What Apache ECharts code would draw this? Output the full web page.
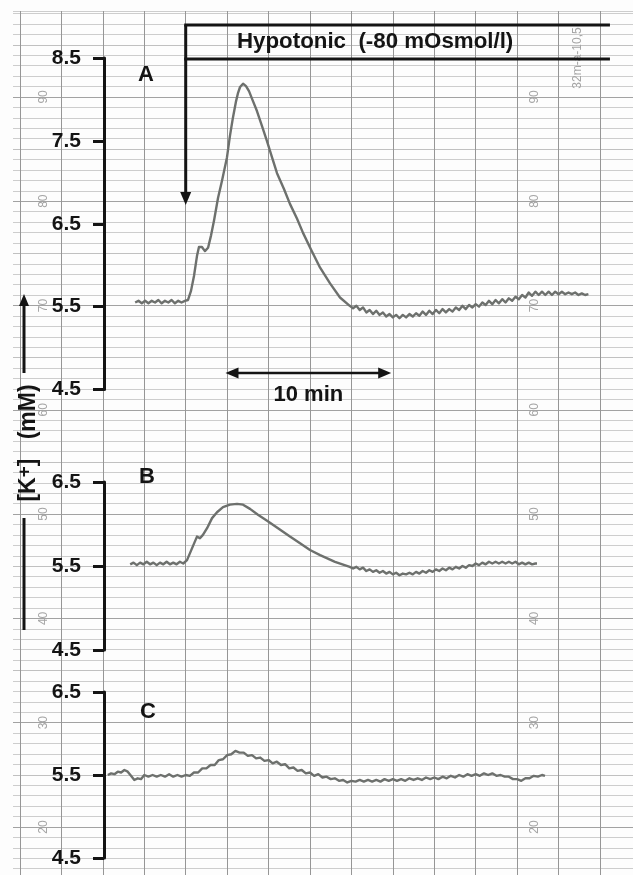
<!DOCTYPE html>
<html><head><meta charset="utf-8">
<script src="https://cdn.jsdelivr.net/npm/echarts@6/dist/echarts.min.js"></script>
<style>html,body{margin:0;padding:0;background:#fff}#c{width:633px;height:875px}</style>
</head><body><div id="c"></div>
<script>
// ---------------- DATA (time in min from hypotonic onset, [K+] in mM) ----------------
const traceA = [
[-3.05,5.55],[-2.85,5.57],[-2.65,5.54],[-2.45,5.57],[-2.25,5.54],[-2.05,5.57],[-1.85,5.55],[-1.65,5.58],[-1.45,5.54],[-1.25,5.57],[-1.05,5.55],[-0.85,5.58],[-0.65,5.54],[-0.45,5.57],[-0.25,5.55],[-0.05,5.57],
[0.14,5.58],[0.32,5.69],[0.50,5.87],[0.68,6.11],[0.80,6.22],[0.98,6.22],[1.16,6.17],[1.35,6.21],[1.53,6.36],[1.71,6.54],[1.95,6.81],[2.19,7.02],[2.49,7.30],[2.67,7.56],[2.85,7.78],[3.04,7.98],[3.16,8.08],[3.28,8.15],[3.46,8.19],[3.64,8.16],[3.82,8.10],[4.06,7.98],[4.30,7.86],[4.60,7.68],[4.90,7.50],[5.21,7.30],[5.51,7.11],[5.93,6.92],[6.29,6.74],[6.72,6.56],[7.08,6.39],[7.56,6.19],[8.11,5.97],[8.71,5.78],[9.31,5.61],
[9.9,5.51],[10.1,5.48],[10.3,5.51],[10.5,5.46],[10.7,5.49],[10.9,5.43],[11.1,5.46],[11.3,5.41],[11.5,5.45],[11.7,5.40],[11.9,5.43],[12.1,5.38],[12.3,5.41],[12.5,5.37],[12.7,5.40],[12.9,5.36],[13.1,5.40],[13.3,5.37],[13.5,5.41],[13.7,5.38],[13.9,5.42],[14.1,5.39],[14.3,5.44],[14.5,5.40],[14.7,5.45],[14.9,5.41],[15.1,5.46],[15.3,5.42],[15.5,5.47],[15.7,5.43],[15.9,5.47],[16.1,5.44],[16.3,5.49],[16.5,5.46],[16.7,5.51],[16.9,5.47],[17.1,5.52],[17.3,5.49],[17.5,5.53],[17.7,5.50],[17.9,5.55],[18.1,5.52],[18.3,5.57],[18.5,5.53],[18.7,5.58],[18.9,5.54],[19.1,5.59],[19.3,5.55],[19.5,5.60],[19.7,5.57],[19.9,5.62],[20.1,5.59],[20.3,5.64],[20.5,5.61],[20.7,5.67],[20.9,5.63],[21.1,5.68],[21.3,5.64],[21.5,5.68],[21.7,5.64],[21.9,5.68],[22.1,5.64],[22.3,5.68],[22.5,5.65],[22.7,5.68],[22.9,5.65],[23.1,5.67],[23.3,5.65],[23.5,5.67],[23.7,5.64],[23.9,5.66],[24.1,5.64],[24.3,5.65]
];
const traceB = [
[-3.35,5.52],[-3.15,5.54],[-2.95,5.51],[-2.75,5.54],[-2.55,5.52],[-2.35,5.55],[-2.15,5.52],[-1.95,5.54],[-1.75,5.51],[-1.55,5.54],[-1.35,5.52],[-1.15,5.55],[-0.95,5.52],[-0.75,5.54],[-0.55,5.52],[-0.35,5.55],[-0.15,5.53],
[0.08,5.57],[0.38,5.71],[0.68,5.85],[0.86,5.83],[1.04,5.87],[1.29,5.95],[1.59,6.07],[1.89,6.14],[2.25,6.20],[2.67,6.23],[3.10,6.24],[3.46,6.23],[3.88,6.18],[4.36,6.11],[4.91,6.04],[5.57,5.95],[6.29,5.85],[6.90,5.77],[7.50,5.69],[8.11,5.63],[9.01,5.55],
[9.9,5.49],[10.1,5.47],[10.3,5.49],[10.5,5.46],[10.7,5.48],[10.9,5.44],[11.1,5.46],[11.3,5.43],[11.5,5.45],[11.7,5.42],[11.9,5.44],[12.1,5.41],[12.3,5.43],[12.5,5.40],[12.7,5.42],[12.9,5.39],[13.1,5.41],[13.3,5.40],[13.5,5.42],[13.7,5.40],[13.9,5.43],[14.1,5.41],[14.3,5.44],[14.5,5.42],[14.7,5.45],[14.9,5.43],[15.1,5.46],[15.3,5.44],[15.5,5.47],[15.7,5.45],[15.9,5.48],[16.1,5.46],[16.3,5.49],[16.5,5.47],[16.7,5.50],[16.9,5.48],[17.1,5.51],[17.3,5.50],[17.5,5.53],[17.7,5.51],[17.9,5.54],[18.1,5.52],[18.3,5.55],[18.5,5.53],[18.7,5.55],[18.9,5.53],[19.1,5.55],[19.3,5.53],[19.5,5.55],[19.7,5.53],[19.9,5.55],[20.1,5.52],[20.3,5.54],[20.5,5.52],[20.7,5.54],[20.9,5.52],[21.1,5.53],[21.2,5.53]
];
const traceC = [
[-4.70,5.50],[-4.50,5.52],[-4.30,5.51],[-4.10,5.54],[-3.90,5.53],[-3.70,5.56],[-3.50,5.54],[-3.30,5.49],[-3.10,5.44],[-2.90,5.46],[-2.70,5.45],[-2.50,5.50],[-2.25,5.48],[-2.00,5.50],[-1.75,5.48],[-1.50,5.50],[-1.25,5.48],[-1.00,5.51],[-0.75,5.48],[-0.50,5.50],[-0.25,5.48],[0.00,5.50],
[0.25,5.49],[0.50,5.53],[0.75,5.53],[1.00,5.58],[1.25,5.58],[1.50,5.62],[1.75,5.62],[2.00,5.68],[2.25,5.69],[2.50,5.74],[2.75,5.75],[3.00,5.79],[3.25,5.77],[3.50,5.77],[3.75,5.73],[4.00,5.74],[4.25,5.70],[4.50,5.71],[4.75,5.67],[5.00,5.68],[5.25,5.64],[5.50,5.66],[5.75,5.62],[6.00,5.63],[6.25,5.58],[6.50,5.59],[6.75,5.55],[7.00,5.56],[7.25,5.52],[7.50,5.53],[7.75,5.49],[8.00,5.51],[8.25,5.47],[8.50,5.48],[8.75,5.45],[9.00,5.46],[9.25,5.43],[9.50,5.44],[9.75,5.41],
[10.00,5.43],[10.25,5.42],[10.50,5.44],[10.75,5.42],[11.00,5.44],[11.25,5.42],[11.50,5.44],[11.75,5.42],[12.00,5.45],[12.25,5.43],[12.50,5.45],[12.75,5.43],[13.00,5.45],[13.25,5.43],[13.50,5.46],[13.75,5.44],[14.00,5.46],[14.25,5.44],[14.50,5.47],[14.75,5.45],[15.00,5.47],[15.25,5.45],[15.50,5.48],[15.75,5.46],[16.00,5.49],[16.25,5.47],[16.50,5.50],[16.75,5.48],[17.00,5.51],[17.25,5.49],[17.50,5.51],[17.75,5.49],[18.00,5.52],[18.25,5.50],[18.50,5.52],[18.75,5.49],[19.00,5.50],[19.25,5.48],[19.50,5.48],[19.75,5.45],[20.00,5.45],[20.25,5.43],[20.50,5.46],[20.75,5.46],[21.00,5.49],[21.25,5.48],[21.50,5.50],[21.68,5.49]
];
const rangeA = [4.5, 8.5];
const rangeB = [4.5, 6.5];
const rangeC = [4.5, 6.5];
const panelNames = ['A', 'B', 'C'];
const paperScale = [20, 30, 40, 50, 60, 70, 80, 90];
const hypoLabel = 'Hypotonic  (-80 mOsmol/l)';
const hypoSpan = [0, 25.6];          // minutes
const scaleBarSpan = [2.4, 12.4];    // 10 min
const scaleBarLabel = '10 min';
const paperStamp = '32m-a-10,5';

// ---------------- LAYOUT ----------------
const W = 633, H = 875;
const PX_PER_MIN = 41.43 / 2.5;
const T0_X = 185.7;
const TRACE_LEFT = 104;
const xMinT = (TRACE_LEFT - T0_X) / PX_PER_MIN;
const xMaxT = (W - T0_X) / PX_PER_MIN;
const FONT = "'Liberation Sans', Arial, Helvetica, sans-serif";
const INK = '#141414';
const TRACE_COLOR = '#6d706d';
const UNIT = 10.43;   // paper px per chart-paper unit
const Y20 = 827;      // pixel row of paper line "20"
const PAPER_TOP = 11;
const paperMin = 16;
const paperBottomPx = Y20 + (20 - paperMin) * UNIT;
const paperMax = 20 + (Y20 - PAPER_TOP) / UNIT;

const panels = [
  {top: 58, bottom: 389.5, range: rangeA, data: traceA},
  {top: 482, bottom: 650, range: rangeB, data: traceB},
  {top: 692, bottom: 858, range: rangeC, data: traceC}
];

const grids = [
  {left: 13, right: 0, top: PAPER_TOP, bottom: H - paperBottomPx},
  {left: T0_X - 10 * PX_PER_MIN, right: 0, top: PAPER_TOP, bottom: 0}
];
panels.forEach(p => grids.push({left: TRACE_LEFT, right: 0, top: p.top, height: p.bottom - p.top}));

const LIGHT = '#cdcdcd', DARK = '#a2a2a2', MID = '#c0c0c0';
const xAxes = [
  {gridIndex: 0, type: 'value', show: false, min: 0, max: 1},
  {gridIndex: 1, type: 'value', min: -10, max: (W - grids[1].left) / PX_PER_MIN - 10, interval: 2.5,
   axisLine: {show: false}, axisTick: {show: false}, axisLabel: {show: false},
   splitLine: {show: true, lineStyle: {color: '#969696', width: 1}}}
];
const yAxes = [
  {gridIndex: 0, type: 'value', min: paperMin, max: paperMax, interval: 1,
   axisLine: {show: false}, axisTick: {show: false}, axisLabel: {show: false},
   splitLine: {show: true, lineStyle: {width: 1,
     color: [LIGHT, LIGHT, LIGHT, LIGHT, DARK, LIGHT, LIGHT, LIGHT, LIGHT, MID]}}},
  {gridIndex: 1, type: 'value', show: false, min: 0, max: 1}
];
const series = [];
panels.forEach((p, i) => {
  const gi = i + 2;
  xAxes.push({gridIndex: gi, type: 'value', show: false, min: xMinT, max: xMaxT});
  yAxes.push({gridIndex: gi, type: 'value', min: p.range[0], max: p.range[1], interval: 1,
    axisLine: {show: true, onZero: false, lineStyle: {color: INK, width: 3}},
    axisTick: {show: true, length: 11, lineStyle: {color: INK, width: 3}},
    axisLabel: {show: true, margin: 23, color: INK, fontSize: 21, fontWeight: 'bold', fontFamily: FONT,
      formatter: v => v.toFixed(1)},
    splitLine: {show: false}});
  series.push({type: 'line', xAxisIndex: gi, yAxisIndex: gi, data: p.data, showSymbol: false,
    symbol: 'none', smooth: false, z: 5,
    lineStyle: {color: TRACE_COLOR, width: 2.4, join: 'round'}, silent: true});
});

const chart = echarts.init(document.getElementById('c'), null, {renderer: 'canvas', width: W, height: H});
chart.setOption({
  animation: false,
  backgroundColor: '#fdfdfd',
  grid: grids, xAxis: xAxes, yAxis: yAxes, series: series
});

// ---------------- ANNOTATIONS ----------------
const g = [];
const txt = (x, y, text, o) => ({type: 'text', x, y, z: 20, silent: true,
  style: Object.assign({text, fill: INK, fontFamily: FONT, fontWeight: 'bold', fontSize: 22,
    align: 'center', verticalAlign: 'middle'}, o || {})});
const line = (x1, y1, x2, y2, w) => ({type: 'line', z: 20, silent: true,
  shape: {x1, y1, x2, y2}, style: {stroke: INK, lineWidth: w || 3}});
const tri = (pts) => ({type: 'polygon', z: 20, silent: true, shape: {points: pts}, style: {fill: INK}});

// white margin above / left of paper
g.push({type: 'rect', z: 1, silent: true, shape: {x: 0, y: 0, width: W, height: PAPER_TOP - 0.5}, style: {fill: '#fdfdfd'}});
g.push({type: 'rect', z: 1, silent: true, shape: {x: 0, y: 0, width: 13, height: H}, style: {fill: '#fdfdfd'}});

// paper scale numbers
paperScale.forEach(v => {
  const y = chart.convertToPixel({yAxisIndex: 0}, v);
  [44, 535].forEach(x => g.push({type: 'text', x, y, rotation: Math.PI / 2, z: 3, silent: true,
    style: {text: String(v), fill: '#a5a5a5', fontFamily: FONT, fontSize: 12, align: 'center', verticalAlign: 'middle'}}));
});
g.push({type: 'text', x: 578, y: 58, rotation: Math.PI / 2, z: 3, silent: true,
  style: {text: paperStamp, fill: '#a5a5a5', fontFamily: FONT, fontSize: 12, align: 'center', verticalAlign: 'middle'}});

// hypotonic bar
const hx0 = chart.convertToPixel({xAxisIndex: 2}, hypoSpan[0]);
const hx1 = chart.convertToPixel({xAxisIndex: 2}, hypoSpan[1]);
g.push(line(hx0 - 1.5, 25, hx1, 25));
g.push(line(hx0 - 1.5, 59, hx1, 59));
g.push(line(hx0, 25, hx0, 196));
g.push(tri([[hx0 - 5.5, 192], [hx0 + 5.5, 192], [hx0, 205]]));
g.push(txt(237, 42, hypoLabel, {align: 'left', fontSize: 22.3}));

// 10 min scale bar
const sx0 = chart.convertToPixel({xAxisIndex: 2}, scaleBarSpan[0]);
const sx1 = chart.convertToPixel({xAxisIndex: 2}, scaleBarSpan[1]);
const sy = 373;
g.push(line(sx0 + 8, sy, sx1 - 8, sy, 2.5));
g.push(tri([[sx0, sy], [sx0 + 13, sy - 5.5], [sx0 + 13, sy + 5.5]]));
g.push(tri([[sx1, sy], [sx1 - 13, sy - 5.5], [sx1 - 13, sy + 5.5]]));
g.push(txt((sx0 + sx1) / 2, 394.5, scaleBarLabel));

// panel letters
[[146, 75], [147, 477], [148, 712]].forEach((p, i) => g.push(txt(p[0], p[1], panelNames[i], {fontSize: 22})));

// y title with arrow
g.push({type: 'text', x: 29, y: 443, rotation: Math.PI / 2, z: 20, silent: true,
  style: {text: '{a|[K}{s|+}{a|]   (mM)}', fill: INK, fontFamily: FONT, fontWeight: 'bold',
    align: 'center', verticalAlign: 'middle',
    rich: {a: {fontSize: 23, fontWeight: 'bold', fontFamily: FONT, fill: INK, lineHeight: 28},
           s: {fontSize: 19, fontWeight: 'bold', fontFamily: FONT, fill: INK, verticalAlign: 'top', lineHeight: 28}}}});
g.push(line(24, 630, 24, 518));
g.push(line(24, 373, 24, 303));
g.push(tri([[19, 306], [29, 306], [24, 294]]));

chart.setOption({graphic: {elements: g}});
</script></body></html>
